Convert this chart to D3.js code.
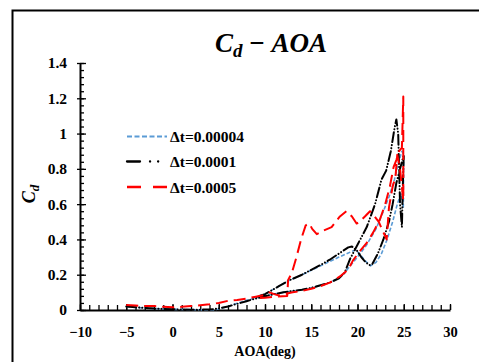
<!DOCTYPE html>
<html>
<head>
<meta charset="utf-8">
<script src="https://cdn.jsdelivr.net/npm/d3@7"></script>
<style>
  html, body { margin: 0; padding: 0; background: #fff; }
  svg { display: block; }
</style>
</head>
<body>
<svg id="chart" width="479" height="362"></svg>
<script>
// Drag coefficient over one pitching cycle, three time steps.
// Each series is a path of [AOA (deg), Cd] pairs: upstroke, then downstroke.
const seriesNames = ["Δt=0.00004", "Δt=0.0001", "Δt=0.0005"];

const cdDt00004 = [
  [-5,0.02],[-4,0.015],[-3,0.011],[-2,0.008],[-1,0.006],[0,0.004],[1,0.003],[2,0.002],
  [3,0.001],[3.5,0],[4,0],[4.5,0.002],[5,0.006],[6,0.02],[7,0.038],[8,0.055],[9,0.068],
  [10,0.08],[11,0.09],[12,0.1],[13,0.108],[14,0.116],[15,0.126],[16,0.14],[17,0.156],
  [18,0.18],[18.6,0.21],[19.2,0.25],[20,0.3],[21,0.37],[22,0.46],[22.8,0.56],[23.4,0.64],
  [24,0.74],[24.4,0.83],[24.8,0.9],[25,0.88],[24.95,0.58],[24.7,0.66],[24.3,0.6],
  [23.8,0.5],[23.2,0.4],[22.6,0.32],[22,0.27],[21.4,0.25],[20.8,0.28],[20.2,0.32],
  [19.8,0.34],[19.3,0.33],[18,0.3],[17,0.275],[16,0.25],[15,0.225],[14,0.2],[12.7,0.17],
  [11.5,0.135],[10.5,0.105],[10,0.09],[9,0.072]
];

const cdDt0001 = [
  [-5,0.02],[-4,0.015],[-3,0.012],[-2,0.008],[-1,0.006],[0,0.004],[1,0.003],[2,0.002],
  [3,0.002],[4,0.003],[5,0.008],[6,0.02],[7,0.035],[8,0.05],[9,0.065],[10,0.078],
  [11,0.09],[12,0.1],[13,0.108],[14,0.115],[15,0.125],[16,0.14],[17,0.155],[18,0.18],
  [18.6,0.21],[19.2,0.29],[20,0.37],[21,0.47],[21.9,0.6],[22.6,0.74],[23.1,0.79],
  [23.6,0.9],[24,1.03],[24.2,1.08],[24.4,1.0],[24.5,0.8],[24.6,0.6],[24.8,0.47],
  [24.9,0.7],[25,0.88],[24.6,0.8],[24.2,0.72],[23.8,0.6],[23.4,0.5],[22.8,0.4],
  [22.2,0.32],[21.6,0.26],[21.3,0.255],[20.9,0.27],[20.4,0.3],[19.9,0.34],[19.4,0.36],
  [19,0.355],[18,0.32],[17,0.285],[16,0.255],[15,0.228],[14,0.2],[12.7,0.17],
  [11.5,0.135],[10.5,0.105],[10,0.09],[9,0.072]
];

const cdDt0005 = [
  [-5,0.028],[-4,0.025],[-3,0.022],[-2,0.022],[-1,0.018],[0,0.015],[1,0.018],[2,0.022],
  [3,0.027],[4,0.032],[5,0.04],[6,0.052],[7,0.057],[8,0.065],[9,0.075],[10,0.085],
  [10.5,0.1],[11,0.09],[11.5,0.082],[12,0.09],[13,0.1],[14,0.108],[15,0.12],[16,0.135],
  [17,0.155],[18.1,0.19],[19,0.23],[19.5,0.28],[20.2,0.33],[21,0.38],[21.7,0.44],
  [22.4,0.51],[23,0.6],[23.5,0.7],[23.9,0.81],[24.2,0.85],[24.5,0.9],[24.8,0.92],
  [24.95,1.21],[24.95,0.62],[24.6,0.8],[24.3,0.88],[24.1,0.75],[23.8,0.7],[23.4,0.58],
  [23.15,0.4],[22.8,0.44],[22.3,0.5],[21.7,0.54],[21.35,0.56],[20.8,0.53],[20.2,0.5],
  [19.9,0.49],[19.4,0.53],[18.8,0.56],[18.1,0.53],[17.2,0.47],[16.3,0.45],[15.6,0.43],
  [15.1,0.46],[14.8,0.49],[14.4,0.48],[13.9,0.4],[13.4,0.3],[12.9,0.21],[12.5,0.17],
  [12.4,0.08],[11,0.075],[10,0.07],[9,0.066]
];

const xTicks = [-10, -5, 0, 5, 10, 15, 20, 25, 30];
const yTicks = [0, 0.2, 0.4, 0.6, 0.8, 1, 1.2, 1.4];

const svg = d3.select("#chart");

// outer frame
svg.append("rect")
  .attr("x", 12.5).attr("y", 10.5)
  .attr("width", 500).attr("height", 400)
  .attr("fill", "none").attr("stroke", "#000").attr("stroke-width", 2);

const x = d3.scaleLinear().domain([-10, 30]).range([80, 450]);
const y = d3.scaleLinear().domain([0, 1.4]).range([310, 63]);

const serif = "'Liberation Serif', 'Times New Roman', serif";

// minor ticks
const gx = svg.append("g").attr("transform", `translate(0,${y(0)})`);
gx.call(d3.axisBottom(x).tickValues(d3.range(-10, 31, 1)).tickSize(-5).tickFormat(""))
  .call(g => g.select(".domain").remove());
const gy = svg.append("g").attr("transform", `translate(${x(-10)},0)`);
gy.call(d3.axisLeft(y).tickValues(d3.range(0, 1.401, 0.04)).tickSize(-4).tickFormat(""))
  .call(g => g.select(".domain").remove());

// major ticks and labels
const ax = svg.append("g").attr("transform", `translate(0,${y(0)})`)
  .call(d3.axisBottom(x).tickValues(xTicks).tickSizeInner(-6).tickSizeOuter(0).tickPadding(17)
    .tickFormat(d3.format("d")));
const ay = svg.append("g").attr("transform", `translate(${x(-10)},0)`)
  .call(d3.axisLeft(y).tickValues(yTicks).tickSizeInner(3).tickSizeOuter(0).tickPadding(10)
    .tickFormat(d => d3.format("~g")(d)));
ay.selectAll(".tick line").attr("x2", 6).attr("x1", -3);

[gx, gy, ax, ay].forEach(g => {
  g.selectAll(".tick line").attr("stroke", "#000").attr("stroke-width", 1.3);
  g.selectAll("path.domain").attr("stroke", "#000").attr("stroke-width", 2);
  g.selectAll("text").attr("fill", "#000").style("font-family", serif)
    .style("font-weight", "bold");
});
ax.selectAll("text").style("font-size", "14.5px");
ay.selectAll("text").style("font-size", "15.5px");

const line = d3.line().x(d => x(d[0])).y(d => y(d[1]));

const styles = [
  { data: cdDt00004, color: "#5b9bd5", width: 1.6, dash: "4,2", cap: "butt" },
  { data: cdDt0001, color: "#000000", width: 2, dash: "10,3,0.1,3,0.1,3", cap: "round" },
  { data: cdDt0005, color: "#ff0000", width: 2, dash: "12,6", cap: "butt" }
];

// coarse-step series drawn last so it sits on top
styles.forEach(s => {
  svg.append("path").datum(s.data)
    .attr("d", line)
    .attr("fill", "none")
    .attr("stroke", s.color)
    .attr("stroke-width", s.width)
    .attr("stroke-dasharray", s.dash)
    .attr("stroke-linecap", s.cap)
    .attr("stroke-linejoin", "round");
});

// legend
const legendY = [136.5, 161.5, 187];
const legendDash = ["5,2.5", "13,10,0.1,8,0.1,20", "14,12"];
styles.forEach((s, i) => {
  svg.append("line")
    .attr("x1", 127).attr("x2", 167)
    .attr("y1", legendY[i]).attr("y2", legendY[i])
    .attr("stroke", s.color).attr("stroke-width", s.width + 0.3)
    .attr("stroke-dasharray", legendDash[i])
    .attr("stroke-linecap", s.cap);
  svg.append("text")
    .attr("x", 170).attr("y", legendY[i] + 5.5)
    .style("font-family", serif).style("font-weight", "bold").style("font-size", "15.5px")
    .text(seriesNames[i]);
});

// axis titles
svg.append("text")
  .attr("x", 265).attr("y", 356)
  .attr("text-anchor", "middle")
  .style("font-family", serif).style("font-weight", "bold").style("font-size", "14px")
  .text("AOA(deg)");

const yt = svg.append("text")
  .attr("transform", "translate(35,194) rotate(-90)")
  .attr("text-anchor", "middle")
  .style("font-family", serif).style("font-style", "italic").style("font-weight", "bold")
  .style("font-size", "18px");
yt.append("tspan").text("C");
yt.append("tspan").attr("dy", 4).style("font-size", "13px").text("d");

// title
const tt = svg.append("text")
  .attr("x", 271).attr("y", 52)
  .attr("text-anchor", "middle")
  .style("font-family", serif).style("font-style", "italic").style("font-weight", "bold")
  .style("font-size", "27px");
tt.append("tspan").text("C");
tt.append("tspan").attr("dy", 5).style("font-size", "19px").text("d");
tt.append("tspan").attr("dy", -5).style("font-style", "normal").text(" − ");
tt.append("tspan").text("AOA");
</script>
</body>
</html>
